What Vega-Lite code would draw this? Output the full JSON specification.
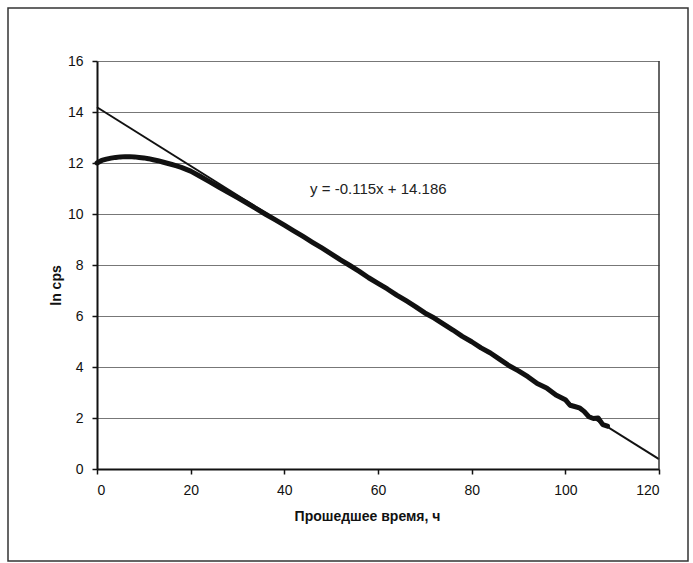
{
  "$schema": "https://vega.github.io/schema/vega-lite/v6.json",
  "width": 680,
  "height": 553,
  "padding": {"left": 8, "top": 8, "right": 5, "bottom": 2},
  "autosize": {"type": "pad"},
  "background": "white",
  "view": {"stroke": "#333333", "strokeWidth": 1.5},
  "config": {
    "font": "Liberation Sans",
    "axis": {
      "labelFont": "Liberation Sans",
      "titleFont": "Liberation Sans",
      "labelColor": "#111111",
      "titleColor": "#111111",
      "labelFontSize": 14,
      "titleFontSize": 14,
      "titleFontWeight": "bold",
      "domainColor": "#111111",
      "domainWidth": 2,
      "tickColor": "#111111",
      "tickWidth": 1.5,
      "tickSize": 5
    }
  },
  "datasets": {
    "curve": [
      {"t": 0, "v": 12.0}, {"t": 1, "v": 12.1}, {"t": 2, "v": 12.15}, {"t": 3, "v": 12.19},
      {"t": 4, "v": 12.22}, {"t": 5, "v": 12.24}, {"t": 6, "v": 12.25}, {"t": 7, "v": 12.25},
      {"t": 8, "v": 12.24}, {"t": 9, "v": 12.22}, {"t": 10, "v": 12.2}, {"t": 11, "v": 12.17},
      {"t": 12, "v": 12.13}, {"t": 13, "v": 12.09}, {"t": 14, "v": 12.04}, {"t": 15, "v": 11.99},
      {"t": 16, "v": 11.94}, {"t": 17, "v": 11.89}, {"t": 18, "v": 11.83}, {"t": 20, "v": 11.68},
      {"t": 22, "v": 11.48}, {"t": 24, "v": 11.27}, {"t": 26, "v": 11.06}, {"t": 28, "v": 10.85},
      {"t": 30, "v": 10.64}, {"t": 32, "v": 10.43}, {"t": 34, "v": 10.21}, {"t": 36, "v": 9.99},
      {"t": 38, "v": 9.78}, {"t": 40, "v": 9.56}, {"t": 42, "v": 9.34}, {"t": 44, "v": 9.12},
      {"t": 46, "v": 8.89}, {"t": 48, "v": 8.67}, {"t": 50, "v": 8.44}, {"t": 52, "v": 8.2},
      {"t": 54, "v": 7.98}, {"t": 56, "v": 7.75}, {"t": 58, "v": 7.5}, {"t": 60, "v": 7.28},
      {"t": 62, "v": 7.06}, {"t": 64, "v": 6.82}, {"t": 66, "v": 6.6}, {"t": 68, "v": 6.37},
      {"t": 70, "v": 6.12}, {"t": 72, "v": 5.92}, {"t": 74, "v": 5.68}, {"t": 76, "v": 5.45},
      {"t": 78, "v": 5.2}, {"t": 80, "v": 4.99}, {"t": 82, "v": 4.75}, {"t": 84, "v": 4.55},
      {"t": 86, "v": 4.3}, {"t": 88, "v": 4.05}, {"t": 90, "v": 3.85}, {"t": 92, "v": 3.62},
      {"t": 94, "v": 3.35}, {"t": 96, "v": 3.18}, {"t": 98, "v": 2.9}, {"t": 100, "v": 2.72},
      {"t": 101, "v": 2.5}, {"t": 102, "v": 2.45}, {"t": 103, "v": 2.4}, {"t": 104, "v": 2.26},
      {"t": 105, "v": 2.05}, {"t": 106, "v": 1.98}, {"t": 107, "v": 2.0}, {"t": 108, "v": 1.74},
      {"t": 109, "v": 1.68}
    ],
    "fit": [
      {"t": 0, "v": 14.186},
      {"t": 120, "v": 0.386}
    ],
    "label": [
      {"t": 45.5, "v": 10.98, "text": "y = -0.115x + 14.186"}
    ]
  },
  "layer": [
    {
      "data": {"name": "curve"},
      "mark": {"type": "line", "color": "#111111", "strokeWidth": 5, "strokeJoin": "round", "strokeCap": "round"},
      "encoding": {
        "x": {
          "field": "t", "type": "quantitative",
          "scale": {"domain": [0, 120], "range": [89, 651], "nice": false, "zero": false},
          "axis": {
            "values": [0, 20, 40, 60, 80, 100, 120],
            "offset": -92,
            "grid": false,
            "labelPadding": 9,
            "title": "Прошедшее время, ч",
            "titlePadding": 12,
            "titleX": 359
          }
        },
        "y": {
          "field": "v", "type": "quantitative",
          "scale": {"domain": [0, 16], "range": [461, 53], "nice": false, "zero": false},
          "axis": {
            "values": [0, 2, 4, 6, 8, 10, 12, 14, 16],
            "offset": -89,
            "grid": true,
            "gridColor": "#777777",
            "gridWidth": 1.2,
            "labelPadding": 9,
            "title": "ln cps",
            "titlePadding": 4,
            "titleY": 277
          }
        }
      }
    },
    {
      "data": {"name": "fit"},
      "mark": {"type": "line", "color": "#111111", "strokeWidth": 2},
      "encoding": {
        "x": {"field": "t", "type": "quantitative"},
        "y": {"field": "v", "type": "quantitative"}
      }
    },
    {
      "data": {"values": [{}]},
      "mark": {"type": "rule", "color": "#333333", "strokeWidth": 1.5},
      "encoding": {
        "x": {"datum": 120, "type": "quantitative"},
        "y": {"datum": 0, "type": "quantitative"},
        "y2": {"datum": 16}
      }
    },
    {
      "data": {"name": "label"},
      "mark": {"type": "text", "align": "left", "baseline": "middle", "font": "Liberation Sans", "fontSize": 15, "color": "#222222"},
      "encoding": {
        "x": {"field": "t", "type": "quantitative"},
        "y": {"field": "v", "type": "quantitative"},
        "text": {"field": "text"}
      }
    }
  ]
}
